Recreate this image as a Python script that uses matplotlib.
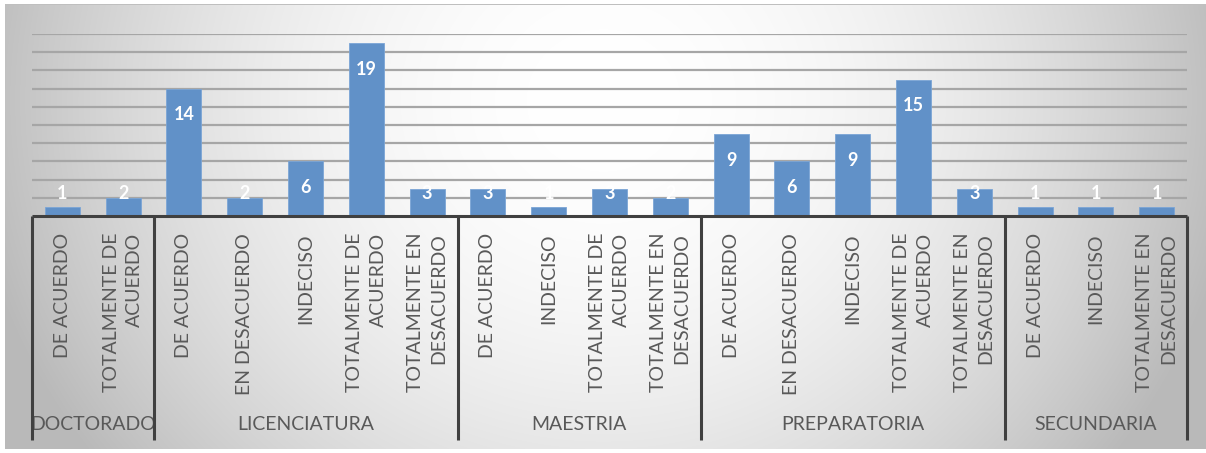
import numpy as np
import matplotlib.pyplot as plt
from matplotlib.transforms import blended_transform_factory

plt.rcParams['font.family'] = ['Lato', 'DejaVu Sans']

# data
groups = ['DOCTORADO', 'LICENCIATURA', 'MAESTRIA', 'PREPARATORIA', 'SECUNDARIA']
doctorado_cats = ['DE ACUERDO', 'TOTALMENTE DE\nACUERDO']
doctorado_vals = [1, 2]
licenciatura_cats = ['DE ACUERDO', 'EN DESACUERDO', 'INDECISO', 'TOTALMENTE DE\nACUERDO', 'TOTALMENTE EN\nDESACUERDO']
licenciatura_vals = [14, 2, 6, 19, 3]
maestria_cats = ['DE ACUERDO', 'INDECISO', 'TOTALMENTE DE\nACUERDO', 'TOTALMENTE EN\nDESACUERDO']
maestria_vals = [3, 1, 3, 2]
preparatoria_cats = ['DE ACUERDO', 'EN DESACUERDO', 'INDECISO', 'TOTALMENTE DE\nACUERDO', 'TOTALMENTE EN\nDESACUERDO']
preparatoria_vals = [9, 6, 9, 15, 3]
secundaria_cats = ['DE ACUERDO', 'INDECISO', 'TOTALMENTE EN\nDESACUERDO']
secundaria_vals = [1, 1, 1]

all_cats = [doctorado_cats, licenciatura_cats, maestria_cats, preparatoria_cats, secundaria_cats]
all_vals = [doctorado_vals, licenciatura_vals, maestria_vals, preparatoria_vals, secundaria_vals]

cats = sum(all_cats, [])
vals = np.array(sum(all_vals, []))
sizes = [len(c) for c in all_cats]
x = np.arange(len(cats))

W, H = 1206, 453
fig = plt.figure(figsize=(W / 100, H / 100), dpi=100)

# radial-ish gradient background of the chart area
bg = fig.add_axes([0, 0, 1, 1], zorder=-10)
yy, xx = np.mgrid[0:H, 0:W]
nx = (xx - 603) / 603
ny = (yy - 100) / 560
d2 = nx ** 2 + ny ** 2
g = np.clip(255 - 62 * d2, 185, 255) / 255
img = np.dstack([g, g, g])
img[:4, :] = 1
img[:, :5] = 1
img[4, 5:] = 0.75
img[449:, :] = 1
bg.imshow(img, extent=[0, W, H, 0], aspect='auto', interpolation='bilinear')
bg.set_xlim(0, W)
bg.set_ylim(H, 0)
bg.axis('off')

# plot area in pixels: left 32, right 1187, baseline 216, value 20 at 34
left, right, base, top = 32, 1187, 216, 34
ax = fig.add_axes([left / W, 1 - base / H, (right - left) / W, (base - top) / H])
ax.patch.set_alpha(0)
ax.set_xlim(-0.5, len(cats) - 0.5)
ax.set_ylim(0, 20)
for s in ax.spines.values():
    s.set_visible(False)
ax.set_xticks([])
ax.set_yticks(np.arange(2, 21, 2))
ax.tick_params(axis='y', length=0, labelleft=False)
ax.yaxis.grid(True, color='#a6a6a6', linewidth=1.6)
ax.set_axisbelow(True)

ax.bar(x, vals, width=0.575, color='#6191c8', edgecolor='#7ba5d6', linewidth=0.6, zorder=3)

for xi, v in zip(x, vals):
    ax.text(xi, max(v - 2.85, 2.5), str(v), ha='center', va='center',
            color='white', fontsize=13, fontweight='bold', zorder=4)

tr = blended_transform_factory(ax.transData, fig.transFigure)
axis_col = '#404040'
# baseline
ax.plot([-0.5, len(cats) - 0.5], [0, 0], color=axis_col, lw=2.2, clip_on=False, zorder=5,
        solid_capstyle='butt')
# group separators
bounds = np.concatenate([[0], np.cumsum(sizes)]) - 0.5
for b in bounds:
    ax.plot([b, b], [1 - base / H, 1 - 440 / H], color=axis_col, lw=2.2, transform=tr,
            clip_on=False, zorder=5, solid_capstyle='butt')

# category labels
for xi, c in zip(x, cats):
    ax.text(xi, 1 - 233 / H, c, rotation=90, ha='center', va='top', multialignment='right',
            transform=tr, fontsize=14, color='#595959', linespacing=1.45)

# group labels
for i, gname in enumerate(groups):
    cx = (bounds[i] + bounds[i + 1]) / 2
    ax.text(cx, 1 - 425 / H, gname, ha='center', va='center', transform=tr,
            fontsize=14, color='#595959')

fig.savefig('out.png', dpi=100)
